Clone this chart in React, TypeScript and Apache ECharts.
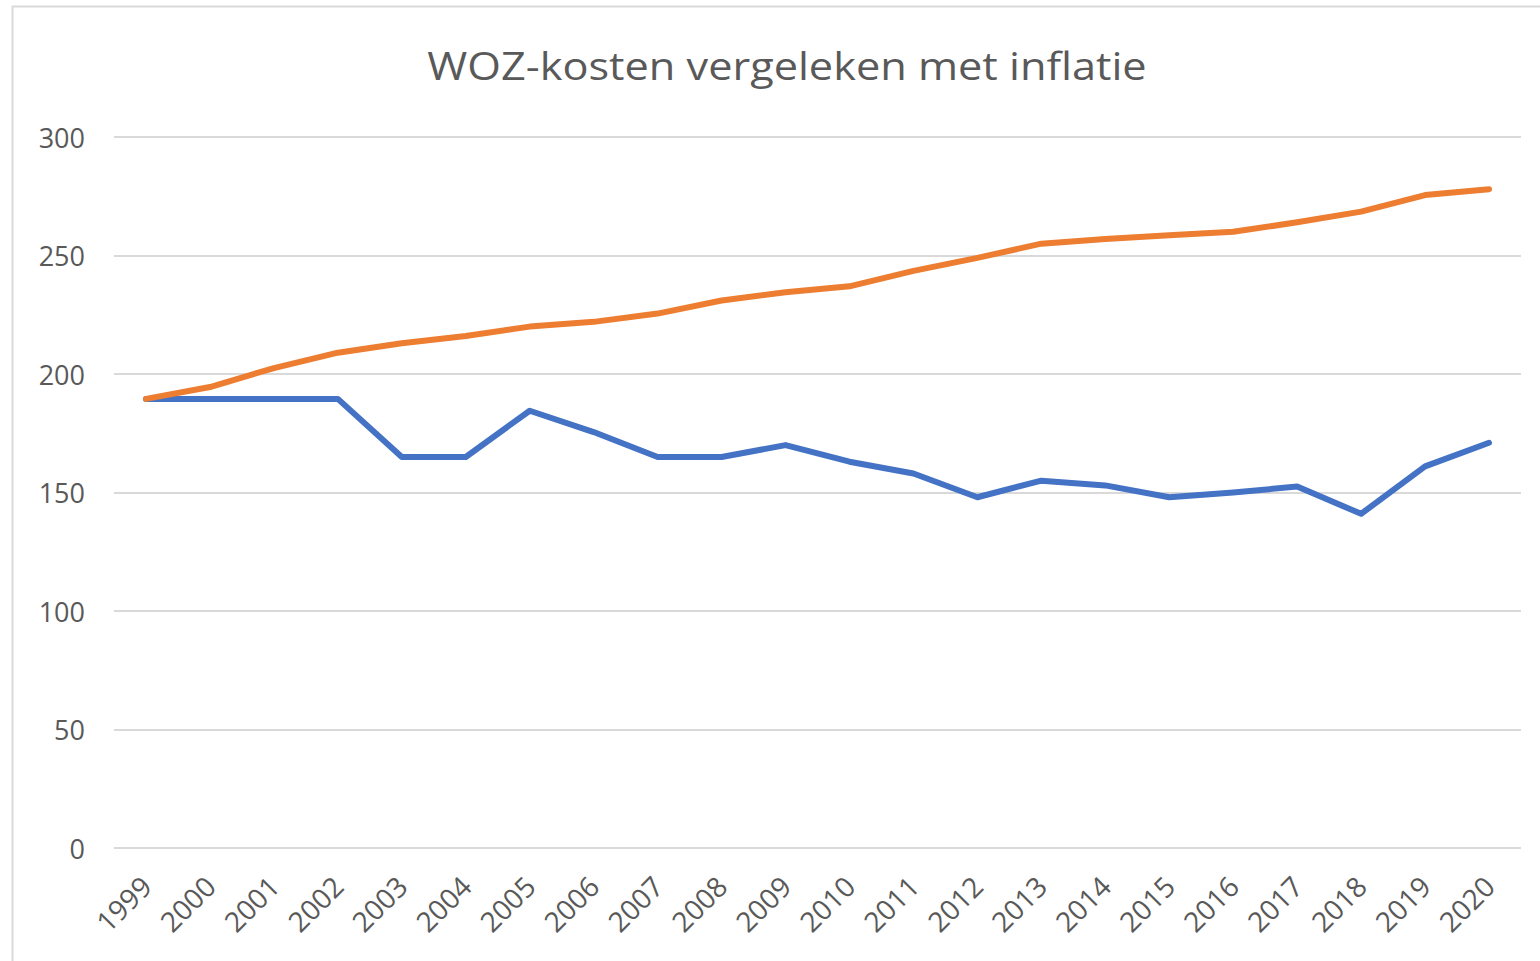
import React, { useEffect, useRef } from "react";
import * as echarts from "echarts";

const titleText = "WOZ-kosten vergeleken met inflatie";
const years = ["1999","2000","2001","2002","2003","2004","2005","2006","2007","2008","2009","2010","2011","2012","2013","2014","2015","2016","2017","2018","2019","2020"];
const wozKosten = [189.5,189.5,189.5,189.5,165,165,184.5,175.5,165,165,170,163,158,148,155,153,148,150,152.5,141,161,171];
const inflatie = [189.5,194.5,202.5,209,213,216,220,222,225.5,231,234.5,237,243.5,249,255,257,258.5,260,264,268.5,275.5,278];
const yTicks = [0, 50, 100, 150, 200, 250, 300];

export default function App() {
  const ref = useRef<HTMLDivElement>(null);
  useEffect(() => {
    const chart = echarts.init(ref.current!, null, { renderer: "svg" });
    chart.setOption({
      animation: false,
      backgroundColor: "#ffffff",
      graphic: [
        { type: "line", shape: { x1: 12.5, y1: 6, x2: 12.5, y2: 961 }, style: { stroke: "#d9d9d9", lineWidth: 2 } },
        { type: "line", shape: { x1: 12, y1: 6.5, x2: 1540, y2: 6.5 }, style: { stroke: "#d9d9d9", lineWidth: 2 } },
        {
          type: "text",
          x: 787,
          y: 45,
          scaleX: 1.11,
          style: {
            text: titleText,
            fontFamily: "Open Sans",
            fontSize: 39,
            fill: "#595959",
            align: "center",
            verticalAlign: "top",
          },
        },
      ],
      grid: { left: 114, right: 19, top: 137, bottom: 113, containLabel: false },
      xAxis: {
        type: "category",
        data: years,
        boundaryGap: true,
        axisLine: { show: false },
        axisTick: { show: false },
        axisLabel: { rotate: 45, margin: 33, fontFamily: "Open Sans", fontSize: 28, color: "#595959", interval: 0 },
      },
      yAxis: {
        type: "value",
        min: yTicks[0],
        max: yTicks[yTicks.length - 1],
        interval: 50,
        axisLine: { show: false },
        axisTick: { show: false },
        axisLabel: { margin: 29, fontFamily: "Open Sans", fontSize: 27, color: "#595959" },
        splitLine: { lineStyle: { color: "#d9d9d9", width: 2 } },
      },
      series: [
        {
          name: "WOZ-kosten",
          type: "line",
          data: wozKosten,
          showSymbol: false,
          lineStyle: { color: "#4472C4", width: 6, cap: "round", join: "round" },
          z: 3,
        },
        {
          name: "Inflatie",
          type: "line",
          data: inflatie,
          showSymbol: false,
          lineStyle: { color: "#ED7D31", width: 6, cap: "round", join: "round" },
          z: 4,
        },
      ],
    });
    return () => chart.dispose();
  }, []);
  return <div ref={ref} style={{ position: "fixed", left: 0, top: 0, width: 1540, height: 961 }} />;
}
